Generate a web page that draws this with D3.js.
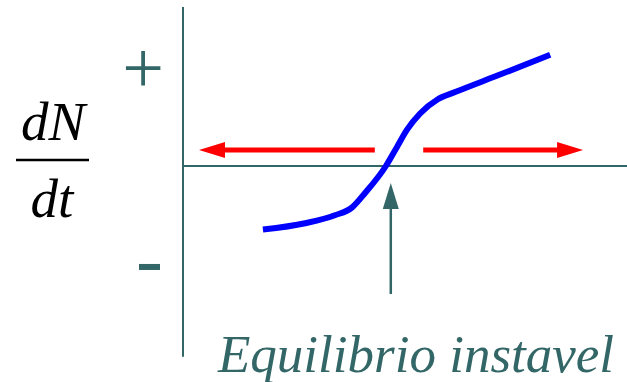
<!DOCTYPE html>
<html>
<head>
<meta charset="utf-8">
<script src="https://cdn.jsdelivr.net/npm/d3@7"></script>
<style>
  html, body { margin: 0; padding: 0; background: #fff; }
  svg { display: block; }
</style>
</head>
<body>
<svg id="chart" width="627" height="382"></svg>
<script>
// population size (N) and growth rate (dN/dt)
let popN = [18.0, 27.5, 34.2, 38.1, 41.0, 45.7, 48.2, 50.5, 53.4, 57.4, 61.3, 71.4, 82.7];
let rate = [-0.40, -0.36, -0.31, -0.26, -0.17, 0, 0.12, 0.23, 0.33, 0.42, 0.465, 0.575, 0.70];

// red arrows (from -> to), drawn at one rate level
let leftArrow = [43.2, 3.6];
let rightArrow = [54.1, 90.1];
let arrowRate = 0.10;

// equilibrium marker arrow (bottom -> tip)
let eqN = 46.8;
let eqArrow = [-0.805, -0.107];

// sign labels on the y side
let signValues = [0.61, -0.635];
let signLabels = ["+", "-"];

let teal = "#336666";
let serif = "Liberation Serif";

let svg = d3.select("#chart");

let xScale = d3.scaleLinear()
    .domain([0, 100])
    .range([183, 627]);

let yScale = d3.scaleLinear()
    .domain([-1, 1])
    .range([325, 7]);

// axes: plain lines, no ticks
svg.append("line")
    .attr("x1", xScale(0)).attr("x2", xScale(0))
    .attr("y1", yScale(1)).attr("y2", yScale(-1.2))
    .attr("stroke", teal).attr("stroke-width", 2);

svg.append("line")
    .attr("x1", xScale(0)).attr("x2", xScale(100))
    .attr("y1", yScale(0)).attr("y2", yScale(0))
    .attr("stroke", teal).attr("stroke-width", 2);

// draws a straight arrow with a triangular head
function arrow(x1, y1, x2, y2, color, width, headLen, headHalf) {
    let dx = x2 - x1, dy = y2 - y1;
    let len = Math.sqrt(dx * dx + dy * dy);
    let ux = dx / len, uy = dy / len;
    let bx = x2 - ux * headLen, by = y2 - uy * headLen;
    svg.append("line")
        .attr("x1", x1).attr("y1", y1)
        .attr("x2", bx + ux * 2).attr("y2", by + uy * 2)
        .attr("stroke", color).attr("stroke-width", width);
    svg.append("path")
        .attr("d", "M" + x2 + "," + y2 +
            "L" + (bx - uy * headHalf) + "," + (by + ux * headHalf) +
            "L" + (bx + uy * headHalf) + "," + (by - ux * headHalf) + "Z")
        .attr("fill", color);
}

arrow(xScale(leftArrow[0]), yScale(arrowRate), xScale(leftArrow[1]), yScale(arrowRate), "#ff0000", 5, 26, 8);
arrow(xScale(rightArrow[0]), yScale(arrowRate), xScale(rightArrow[1]), yScale(arrowRate), "#ff0000", 5, 26, 8);
arrow(xScale(eqN), yScale(eqArrow[0]), xScale(eqN), yScale(eqArrow[1]), teal, 2.5, 26, 8);

// growth curve
let line = d3.line()
    .x(function (d, i) { return xScale(popN[i]); })
    .y(function (d, i) { return yScale(rate[i]); })
    .curve(d3.curveMonotoneX);

svg.append("path")
    .attr("d", line(popN))
    .attr("fill", "none")
    .attr("stroke", "#0000ff")
    .attr("stroke-width", 6);

// + and - signs
svg.append("text")
    .attr("x", 143).attr("y", yScale(signValues[0]) + 24)
    .attr("text-anchor", "middle")
    .attr("font-family", serif)
    .attr("font-size", 74)
    .attr("fill", teal)
    .text(signLabels[0]);

// the minus is a short thick bar in the reference
svg.append("rect")
    .attr("x", 139).attr("y", yScale(signValues[1]) - 3)
    .attr("width", 21).attr("height", 6)
    .attr("fill", teal)
    .append("title").text(signLabels[1]);

// dN/dt label
svg.append("text")
    .attr("x", 53).attr("y", 140)
    .attr("text-anchor", "middle")
    .attr("font-family", serif).attr("font-style", "italic")
    .attr("font-size", 55)
    .text("dN");

svg.append("line")
    .attr("x1", 16).attr("x2", 89)
    .attr("y1", 160).attr("y2", 160)
    .attr("stroke", "#000").attr("stroke-width", 2.5);

svg.append("text")
    .attr("x", 52).attr("y", 217)
    .attr("text-anchor", "middle")
    .attr("font-family", serif).attr("font-style", "italic")
    .attr("font-size", 55)
    .text("dt");

// caption
svg.append("text")
    .attr("x", 218).attr("y", 372)
    .attr("font-family", serif).attr("font-style", "italic")
    .attr("font-size", 53)
    .attr("fill", teal)
    .text("Equilibrio instavel");
</script>
</body>
</html>
